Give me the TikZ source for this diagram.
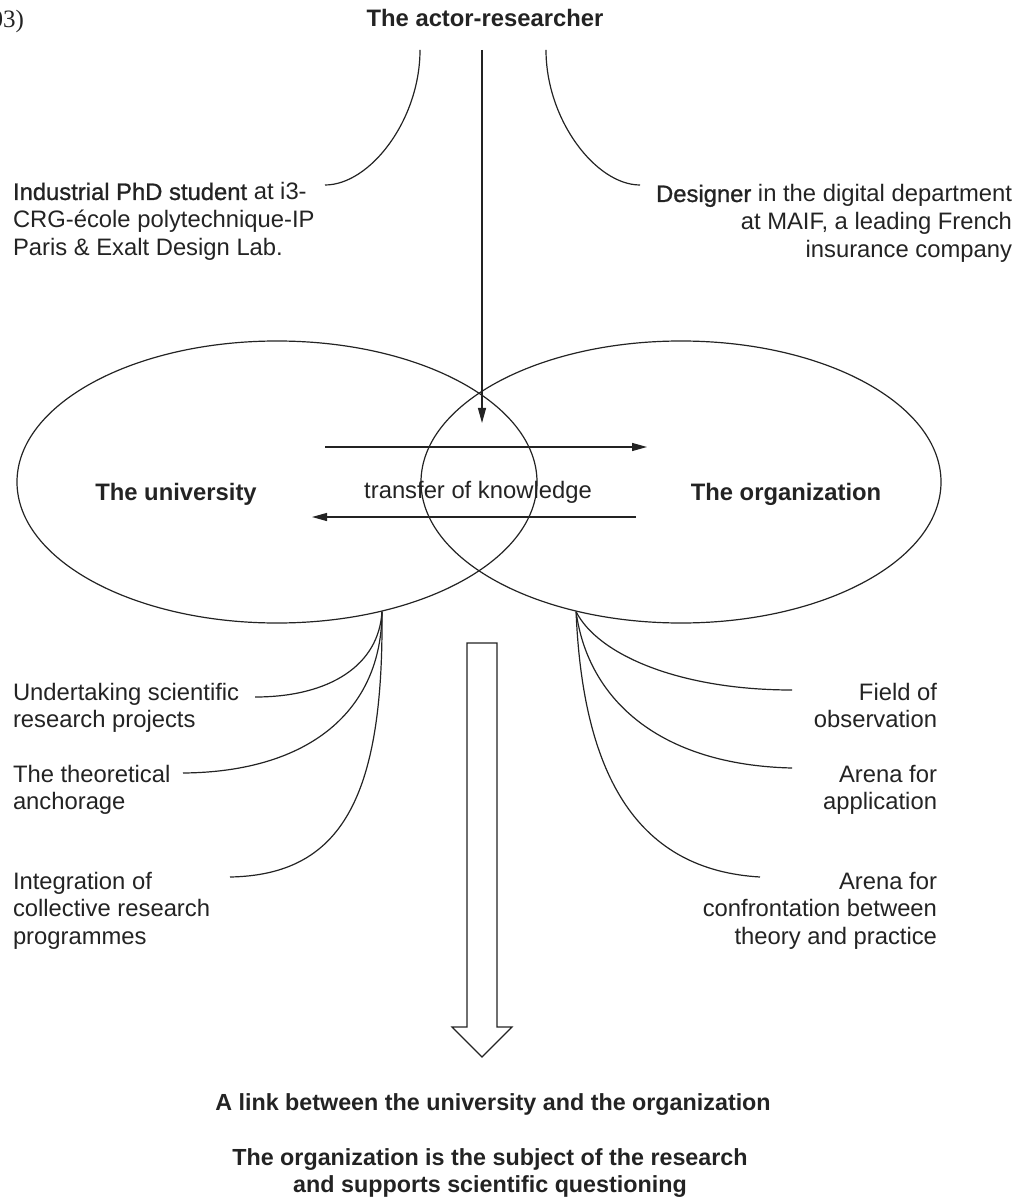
\documentclass[tikz,border=0pt]{standalone}
\usepackage{fontspec}
\setmainfont{Liberation Sans}
\newfontfamily\serifcap{Liberation Serif}
\newfontfamily\medsans{Liberation Sans}[FakeBold=1.0]
\usetikzlibrary{arrows.meta,shapes.geometric}
\definecolor{ink}{RGB}{35,35,35}
\newcommand\bodyfont{\fontsize{11.9pt}{13.9pt}\selectfont}
\newcommand\LinesL[1]{\vtop{\halign{##\hfil\cr#1\crcr}}}
\newcommand\LinesR[1]{\vtop{\halign{\hfil##\cr#1\crcr}}}
\newcommand\LinesC[1]{\vtop{\halign{\hfil##\hfil\cr#1\crcr}}}
\tikzset{
  txt/.style={inner sep=0pt, outer sep=0pt, font=\bodyfont, text=ink},
  hd/.style={txt, font=\bodyfont\bfseries},
  concl/.style={txt, font=\fontsize{11.65pt}{13.6pt}\selectfont\bfseries},
  link/.style={draw=ink, line width=0.6pt},
  arr/.style={link, -{Triangle[length=7.5pt,width=4pt]}},
  oval/.style={ellipse, draw=ink, line width=0.6pt, inner sep=0pt,
               minimum width=260pt, minimum height=141pt}
}
\begin{document}
\begin{tikzpicture}[x=0.5pt,y=-0.5pt]
\useasboundingbox (0,0) rectangle (1022,1197);

% caption fragment
\node[txt, anchor=base east, font=\serifcap\fontsize{12.5pt}{14pt}\selectfont] (fig) at (24,28) {03)};

% heading
\node[hd, anchor=base] (actor) at (485,27) {The actor-researcher};

% top texts
\node[txt, anchor=base west] (phd) at (13,200)
  {\LinesL{{\medsans Industrial PhD student} at i3-\cr CRG-école polytechnique-IP\cr Paris \& Exalt Design Lab.}};
\node[txt, anchor=base east] (designer) at (1012,202)
  {\LinesR{{\medsans Designer} in the digital department\cr at MAIF, a leading French\cr insurance company}};

% ellipses
\node[oval] (univ) at (277,482) {};
\node[oval] (org) at (681,482) {};
\node[hd, anchor=base] (univlab) at (176,500) {The university};
\node[hd, anchor=base] (orglab) at (786,500) {The organization};
\node[txt, anchor=base] (transfer) at (478,498) {transfer of knowledge};

% top connectors
\coordinate (tl) at (420,50);
\coordinate (tlend) at (325,185);
\coordinate (tr) at (546,50);
\coordinate (trend) at (640,185);
\draw[link] (tl) .. controls (420,120) and (370,185) .. (tlend);
\draw[link] (tr) .. controls (546,120) and (596,185) .. (trend);

\coordinate (vs) at (482,50);
\coordinate (ve) at (482,423);
\draw[arr] (vs) -- (ve);

% transfer arrows
\coordinate (ta1) at (325,447);
\coordinate (ta2) at (647,447);
\coordinate (ba1) at (636,517);
\coordinate (ba2) at (312,517);
\draw[arr] (ta1) -- (ta2);
\draw[arr] (ba1) -- (ba2);

% bottom-left texts
\node[txt, anchor=base west] (u1) at (13,700) {\LinesL{Undertaking scientific\cr research projects}};
\node[txt, anchor=base west] (u2) at (13,782) {\LinesL{The theoretical\cr anchorage}};
\node[txt, anchor=base west] (u3) at (13,889) {\LinesL{Integration of\cr collective research\cr programmes}};

% bottom-right texts
\node[txt, anchor=base east] (o1) at (937,700) {\LinesR{Field of\cr observation}};
\node[txt, anchor=base east] (o2) at (937,782) {\LinesR{Arena for\cr application}};
\node[txt, anchor=base east] (o3) at (937,889) {\LinesR{Arena for\cr confrontation between\cr theory and practice}};

% fans
\coordinate (uf) at (univ.-51);
\coordinate (of) at (org.-129);
\coordinate (u1e) at (255,697);
\coordinate (u2e) at (183,773);
\coordinate (u3e) at (230,877);
\coordinate (o1e) at (792,690);
\coordinate (o2e) at (792,768);
\coordinate (o3e) at (760,877);
\draw[link] (uf) .. controls (379,665) and (330,697) .. (u1e);
\draw[link] (uf) .. controls (382,710) and (310,772) .. (u2e);
\draw[link] (uf) .. controls (384,800) and (340,875) .. (u3e);
\draw[link] (of) .. controls (598,655) and (680,690) .. (o1e);
\draw[link] (of) .. controls (588,700) and (660,765) .. (o2e);
\draw[link] (of) .. controls (583,780) and (640,870) .. (o3e);

% hollow arrow
\draw[link, fill=white, line join=miter] (467,643) -- (497,643) -- (497,1027) -- (512,1027)
  -- (482,1057) -- (452,1027) -- (467,1027) -- cycle;

% conclusions
\node[concl, anchor=base] (linktxt) at (493,1110) {A link between the university and the organization};
\node[concl, anchor=base] (subject) at (490,1165)
  {\LinesC{The organization is the subject of the research\cr and supports scientific questioning}};
\end{tikzpicture}
\end{document}
